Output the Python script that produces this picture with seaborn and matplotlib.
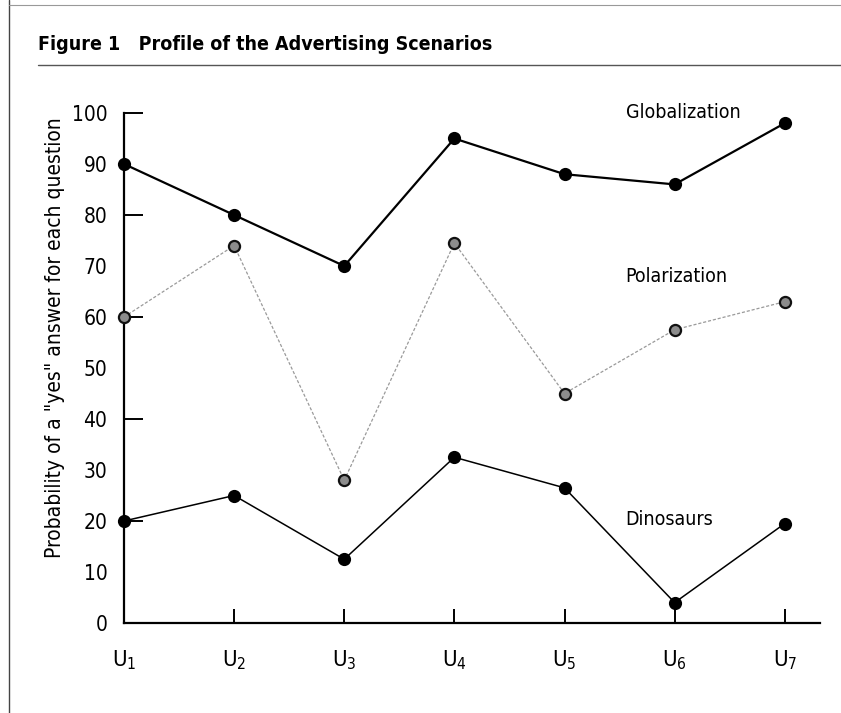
import numpy as np
import pandas as pd
import matplotlib
matplotlib.use("Agg")
import matplotlib.pyplot as plt
import seaborn as sns
from matplotlib.lines import Line2D
from matplotlib.ticker import FixedLocator

# data
questions = ["U1", "U2", "U3", "U4", "U5", "U6", "U7"]
tick_labels = [r"$\mathregular{U_{%d}}$" % i for i in range(1, 8)]
globalization = [90, 80, 70, 95, 88, 86, 98]
polarization = [60, 74, 28, 74.5, 45, 57.5, 63]
dinosaurs = [20, 25, 12.5, 32.5, 26.5, 4, 19.5]

df = pd.DataFrame({
    "q": np.arange(len(questions)),
    "Globalization": globalization,
    "Polarization": polarization,
    "Dinosaurs": dinosaurs,
})

sns.set_style("white")
plt.rcParams["font.family"] = ["DejaVu Sans"]
plt.rcParams["font.stretch"] = "condensed"
plt.rcParams["text.color"] = "black"
plt.rcParams["axes.labelcolor"] = "black"
plt.rcParams["xtick.color"] = "black"
plt.rcParams["ytick.color"] = "black"
plt.rcParams["mathtext.fontset"] = "custom"
plt.rcParams["mathtext.rm"] = "DejaVu Sans:stretch=condensed"

fig = plt.figure(figsize=(8.41, 7.13), dpi=100)
ax = fig.add_axes([124 / 841, 90 / 713, 696 / 841, 510 / 713])

sns.lineplot(data=df, x="q", y="Polarization", ax=ax, color="#9a9a9a",
             linewidth=0.9, linestyle=(0, (2.5, 1.5)), marker="o", markersize=8,
             markerfacecolor="#8c8c8c", markeredgecolor="#111111",
             markeredgewidth=1.6, clip_on=False, zorder=3)
sns.lineplot(data=df, x="q", y="Globalization", ax=ax, color="black",
             linewidth=1.6, marker="o", markersize=9.5, markeredgewidth=0,
             clip_on=False, zorder=4)
sns.lineplot(data=df, x="q", y="Dinosaurs", ax=ax, color="black",
             linewidth=1.1, marker="o", markersize=9.5, markeredgewidth=0,
             clip_on=False, zorder=4)

ax.set_xlim(0, 6.32)
ax.set_ylim(0, 100)

for s in ["top", "right"]:
    ax.spines[s].set_visible(False)
ax.spines["left"].set_linewidth(1.6)
ax.spines["bottom"].set_linewidth(1.6)
ax.spines["left"].set_color("black")
ax.spines["bottom"].set_color("black")

# y: labels every 10, marks every 20
ax.set_yticks(np.arange(0, 101, 10))
ax.set_yticklabels([str(v) for v in range(0, 101, 10)], fontsize=15)
ax.tick_params(axis="y", which="major", length=0, pad=12)
ax.yaxis.set_minor_locator(FixedLocator([20, 40, 60, 80, 100]))
ax.yaxis.remove_overlapping_locs = False
ax.tick_params(axis="y", which="minor", direction="in", length=14, width=1.4,
               color="black", left=True)

# x: labels U1..U7, inward marks
ax.set_xticks(df["q"])
ax.set_xticklabels(tick_labels, fontsize=16)
ax.tick_params(axis="x", which="major", direction="in", length=10, width=1.4,
               color="black", bottom=True, pad=18)

ax.set_xlabel("")
ax.set_ylabel('Probability of a "yes" answer for each question', fontsize=15)
ax.yaxis.set_label_coords(-0.085, 0.56)
ax.grid(False)

ax.text(4.555, 100, "Globalization", fontsize=14, va="center", ha="left")
ax.text(4.555, 68, "Polarization", fontsize=14, va="center", ha="left")
ax.text(4.555, 20.2, "Dinosaurs", fontsize=14, va="center", ha="left")

# page furniture: title, rule and frame line
fig.text(38 / 841, 1 - 44 / 713, "Figure 1   Profile of the Advertising Scenarios",
         fontsize=14, fontweight="bold", va="center", ha="left")
fig.add_artist(Line2D([38 / 841, 1], [1 - 65 / 713, 1 - 65 / 713],
                      color="#555555", linewidth=1))
fig.add_artist(Line2D([9 / 841, 9 / 841], [0, 1], color="#444444", linewidth=1))
fig.add_artist(Line2D([9 / 841, 1], [1 - 5 / 713, 1 - 5 / 713],
                      color="#999999", linewidth=0.8))

fig.savefig("out.png", dpi=100)
